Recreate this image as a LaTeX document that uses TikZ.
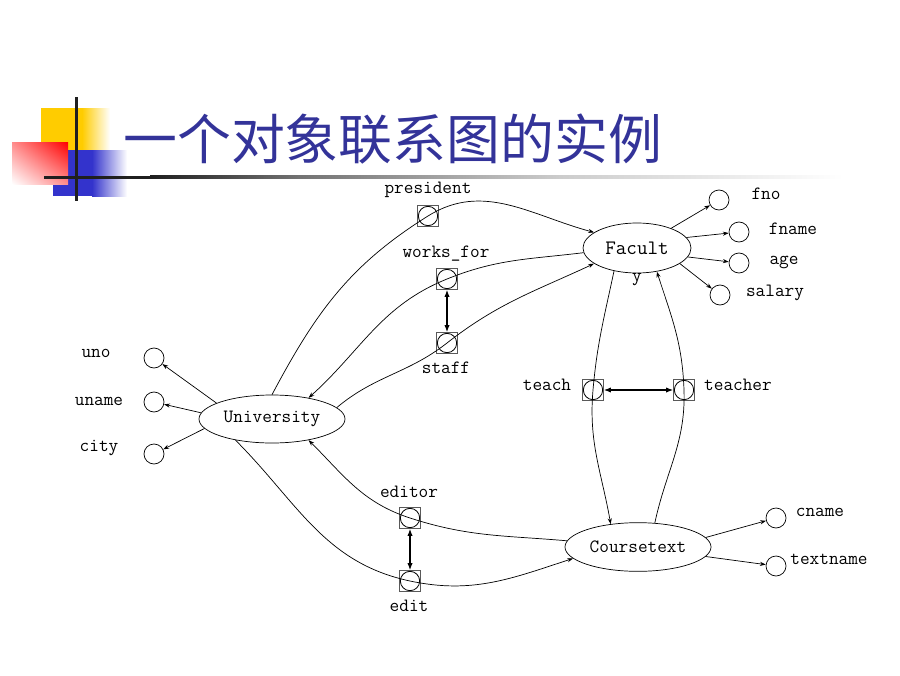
\documentclass[tikz,border=0pt]{standalone}
\usepackage{fontspec}
\newfontfamily\cjk{Noto Sans CJK SC}
\usetikzlibrary{shapes.geometric,arrows.meta,shadings}
\definecolor{titleblue}{RGB}{51,51,153}
\definecolor{decoyellow}{RGB}{255,204,0}
\definecolor{decoblue}{RGB}{51,51,204}
\tikzset{
  lbl/.style={font=\ttfamily\fontsize{16}{18}\selectfont, inner sep=1pt},
  entity/.style={draw, ellipse, inner sep=0pt, line width=0.6pt, font=\ttfamily\fontsize{16}{18}\selectfont},
  attr/.style={draw, circle, minimum size=0.6cm, inner sep=0pt, line width=0.6pt},
  rel/.style={draw=black!65, minimum size=0.63cm, inner sep=0pt, line width=0.6pt,
    path picture={\draw[black, line width=0.7pt] (path picture bounding box.center) circle (0.29cm);}},
  arr/.style={-{Stealth[length=5pt,width=3.5pt]}, line width=0.6pt},
  dbl/.style={{Latex[length=6pt,width=4.5pt]}-{Latex[length=6pt,width=4.5pt]}, line width=0.9pt}
}
\begin{document}
\begin{tikzpicture}[x=0.03cm, y=0.03cm]
  \useasboundingbox (0,0) rectangle (900,-675);
  % corner decoration
  \fill[decoyellow] (41,-108) rectangle (82,-150);
  \shade[left color=decoyellow, right color=white] (82,-108) rectangle (110,-150);
  \fill[decoblue] (53,-150) rectangle (92,-196);
  \shade[left color=decoblue, right color=white] (92,-150) rectangle (127,-196);
  \shade[upper right=red, lower left=white, upper left=red!45, lower right=red!45] (12,-142) rectangle (68,-184);
  \fill[black!88] (74.5,-97) rectangle (77.5,-201);
  \fill[black!88] (44,-175.5) rectangle (150,-178.5);
  \shade[left color=black!88, right color=black!55] (150,-175.5) rectangle (300,-178.5);
  \shade[left color=black!55, right color=black!20] (300,-175.5) rectangle (560,-178.5);
  \shade[left color=black!20, right color=white] (560,-175.5) rectangle (843,-178.5);
  % title
  \node[font=\cjk\fontsize{46}{46}\selectfont, text=titleblue, anchor=west, inner sep=0pt] (title) at (123,-139) {一个对象联系图的实例};

  % entities
  \node[entity, minimum width=3.24cm, minimum height=1.5cm, font=\ttfamily\fontsize{17.5}{18}\selectfont] (fac) at (637,-248) {Facult};
  \node[lbl] (facy) at (637,-280) {y};
  \node[entity, minimum width=4.38cm, minimum height=1.44cm] (uni) at (272,-419) {University};
  \node[entity, minimum width=4.38cm, minimum height=1.46cm] (ct) at (638,-547) {Coursetext};

  % relationships
  \node[rel] (pres) at (428,-216) {};
  \node[rel] (wf) at (447,-279) {};
  \node[rel] (staff) at (447,-343) {};
  \node[rel] (teach) at (593,-390) {};
  \node[rel] (teacher) at (684,-390) {};
  \node[rel] (editor) at (410,-518) {};
  \node[rel] (edit) at (410,-581) {};
  \node[lbl] (l-pres) at (428,-190) {president};
  \node[lbl] (l-wf) at (446,-254) {works\_for};
  \node[lbl] (l-staff) at (446,-368) {staff};
  \node[lbl] (l-teach) at (547,-385) {teach};
  \node[lbl] (l-teacher) at (738,-385) {teacher};
  \node[lbl] (l-editor) at (409,-492) {editor};
  \node[lbl] (l-edit) at (409,-606) {edit};

  % attributes
  \node[attr] (fno) at (719,-200) {};
  \node[attr] (fname) at (739,-232) {};
  \node[attr] (age) at (739,-263) {};
  \node[attr] (salary) at (720,-295) {};
  \node[attr] (uno) at (154,-358) {};
  \node[attr] (uname) at (154,-402) {};
  \node[attr] (city) at (154,-454) {};
  \node[attr] (cname) at (776,-518) {};
  \node[attr] (textname) at (776,-566) {};
  \node[lbl] (l-fno) at (766,-194) {fno};
  \node[lbl] (l-fname) at (793,-229) {fname};
  \node[lbl] (l-age) at (784,-262) {age};
  \node[lbl] (l-salary) at (775,-293) {salary};
  \node[lbl] (l-uno) at (96,-353) {uno};
  \node[lbl] (l-uname) at (99,-401) {uname};
  \node[lbl] (l-city) at (99,-448) {city};
  \node[lbl] (l-cname) at (820,-512) {cname};
  \node[lbl] (l-textname) at (829,-559) {textname};

  % attribute arrows
  \draw[arr] (fac.30) -- (fno);
  \draw[arr] (fac.12) -- (fname);
  \draw[arr] (fac.-10) -- (age);
  \draw[arr] (fac.-20) -- (salary);
  \draw[arr] (uni.164) -- (uno);
  \draw[arr] (uni.175) -- (uname);
  \draw[arr] (uni.188) -- (city);
  \draw[arr] (ct.8) -- (cname);
  \draw[arr] (ct.-8) -- (textname);

  % relationship curves
  \draw[arr] (uni.north) to[out=62,in=212] (pres.center) to[out=32,in=165] (fac.160);
  \draw[arr] (fac.185) to[out=187,in=22] (wf.center) to[out=202,in=42] (uni.30);
  \draw[arr] (uni.10) to[out=40,in=218] (staff.center) to[out=38,in=205] (fac.200);
  \draw[arr] (fac.225) to[out=258,in=85] (teach.center) to[out=-95,in=100] (ct.140);
  \draw[arr] (ct.55) to[out=78,in=-88] (teacher.center) to[out=92,in=-72] (fac.310);
  \draw[arr] (ct.175) to[out=175,in=-18] (editor.center) to[out=162,in=-45] (uni.-30);
  \draw[arr] (uni.210) to[out=-45,in=168] (edit.center) to[out=-12,in=198] (ct.190);

  % links between roles
  \draw[dbl] (wf) -- (staff);
  \draw[dbl] (teach) -- (teacher);
  \draw[dbl] (editor) -- (edit);
\end{tikzpicture}
\end{document}
